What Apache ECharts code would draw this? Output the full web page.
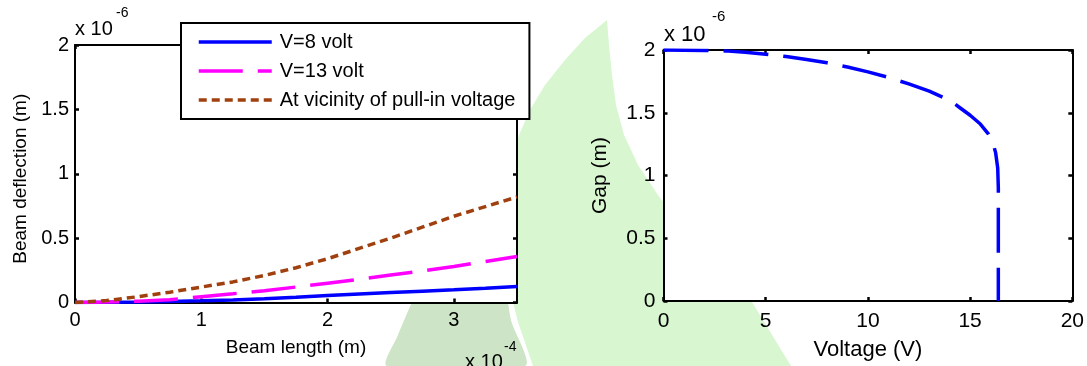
<!DOCTYPE html>
<html>
<head>
<meta charset="utf-8">
<script src="https://cdn.jsdelivr.net/npm/echarts@6/dist/echarts.min.js"></script>
<style>
html,body{margin:0;padding:0;background:#fff;}
#chart{width:1087px;height:366px;}
</style>
</head>
<body>
<div id="chart"></div>
<script>
// Left panel: beam length (x 1e-4 m) vs beam deflection (x 1e-6 m)
const beamLength = [0, 0.25, 0.5, 0.75, 1, 1.25, 1.5, 1.75, 2, 2.25, 2.5, 2.75, 3, 3.25, 3.5];
const defl8      = [0, 0.001, 0.003, 0.007, 0.013, 0.02, 0.029, 0.04, 0.055, 0.066, 0.077, 0.088, 0.099, 0.111, 0.124];
const defl13     = [0, 0.003, 0.01, 0.022, 0.045, 0.068, 0.092, 0.12, 0.15, 0.18, 0.213, 0.246, 0.28, 0.318, 0.358];
const deflPull   = [0, 0.015, 0.045, 0.08, 0.12, 0.16, 0.21, 0.27, 0.34, 0.42, 0.5, 0.585, 0.67, 0.745, 0.82];
const seriesNames = ['V=8 volt', 'V=13 volt', 'At vicinity of pull-in voltage'];

// Right panel: voltage (V) vs gap (x 1e-6 m)
const voltage = [0, 1, 2, 3, 4, 5, 6, 7, 8, 9, 10, 11, 12, 13, 14, 14.5, 15, 15.5, 15.9, 16.1, 16.25, 16.35, 16.38, 16.38];
const gap     = [2.0, 1.999, 1.997, 1.993, 1.982, 1.966, 1.948, 1.925, 1.898, 1.865, 1.826, 1.782, 1.73, 1.672, 1.6, 1.54, 1.48, 1.41, 1.33, 1.27, 1.18, 1.06, 0.9, 0];

const FONT = '"Liberation Sans", Arial, sans-serif';
const zip = (xs, ys) => xs.map((x, i) => [x, ys[i]]);

function axis(opts) {
  const base = {
    type: 'value',
    axisLine: { show: true, onZero: false, lineStyle: { color: '#000', width: 2 } },
    axisTick: { show: true, inside: true, length: 4, lineStyle: { color: '#000', width: 2.5 } },
    splitLine: { show: false },
    axisLabel: { show: true, color: '#000', fontFamily: FONT, fontSize: 21, showMaxLabel: true }
  };
  const o = Object.assign({}, base, opts);
  if (opts.axisLabel) o.axisLabel = Object.assign({}, base.axisLabel, opts.axisLabel);
  return o;
}

const chart = echarts.init(document.getElementById('chart'), null, { renderer: 'canvas' });
chart.setOption({
  backgroundColor: '#fff',
  animation: false,
  graphic: { elements: [
    { type: 'polygon', z: -10, shape: { smooth: 0.25, points: [[387,366],[398,335],[412,302],[440,240],[470,180],[500,130],[505,200],[506,280],[511,320],[525,366]] }, style: { fill: '#cde5c6' } },
    { type: 'polygon', z: -10, shape: { points: [[607,20],[609,45],[612,75],[616,105],[624,135],[638,165],[660,198],[690,232],[720,266],[752,302],[791,366],[533,366],[518,322],[510,290],[508,220],[512,160],[519,135],[530,110],[545,85],[565,60],[585,38]] }, style: { fill: '#d8f6d0' } },
    { type: 'text', z: 100, x: 75, y: 29, style: { text: 'x 10', fill: '#000', font: '20px ' + FONT, textAlign: 'left', textVerticalAlign: 'middle' } },
    { type: 'text', z: 100, x: 116, y: 13, style: { text: '-6', fill: '#000', font: '14px ' + FONT, textAlign: 'left', textVerticalAlign: 'middle' } },
    { type: 'text', z: 100, x: 664, y: 35, style: { text: 'x 10', fill: '#000', font: '22px ' + FONT, textAlign: 'left', textVerticalAlign: 'middle' } },
    { type: 'text', z: 100, x: 712, y: 17, style: { text: '-6', fill: '#000', font: '15px ' + FONT, textAlign: 'left', textVerticalAlign: 'middle' } },
    { type: 'text', z: 100, x: 465, y: 362, style: { text: 'x 10', fill: '#000', font: '20px ' + FONT, textAlign: 'left', textVerticalAlign: 'middle' } },
    { type: 'text', z: 100, x: 504, y: 347, style: { text: '-4', fill: '#000', font: '14px ' + FONT, textAlign: 'left', textVerticalAlign: 'middle' } }
  ]},
  legend: {
    data: seriesNames,
    left: 181, top: 23,
    orient: 'vertical',
    backgroundColor: '#fff',
    borderColor: '#000', borderWidth: 2, borderRadius: 0,
    padding: [9, 14, 9, 16],
    itemWidth: 73, itemHeight: 14, itemGap: 9,
    itemStyle: { opacity: 0 },
    lineStyle: { width: 3.5, opacity: 1 },
    selectedMode: false,
    textStyle: { color: '#000', fontFamily: FONT, fontSize: 20, padding: [0, 0, 0, 3] }
  },
  grid: [
    { left: 75, top: 45, width: 442, height: 257.5, show: true, backgroundColor: '#fff', borderWidth: 0 },
    { left: 663.5, top: 50, width: 410, height: 251.7, show: true, backgroundColor: '#fff', borderWidth: 0 }
  ],
  xAxis: [
    axis({ gridIndex: 0, position: 'bottom', min: 0, max: 3.5, interval: 1,
      axisLabel: { margin: 8, fontSize: 20, showMaxLabel: false },
      name: 'Beam length (m)', nameLocation: 'middle', nameGap: 36,
      nameTextStyle: { color: '#000', fontFamily: FONT, fontSize: 19 } }),
    axis({ gridIndex: 0, position: 'top', min: 0, max: 3.5, interval: 1, axisLabel: { show: false } }),
    axis({ gridIndex: 1, position: 'bottom', min: 0, max: 20, interval: 5,
      axisLabel: { margin: 10, fontSize: 21 },
      name: 'Voltage (V)', nameLocation: 'middle', nameGap: 38,
      nameTextStyle: { color: '#000', fontFamily: FONT, fontSize: 22 } }),
    axis({ gridIndex: 1, position: 'top', min: 0, max: 20, interval: 5, axisLabel: { show: false } })
  ],
  yAxis: [
    axis({ gridIndex: 0, position: 'left', min: 0, max: 2, interval: 0.5,
      axisLabel: { margin: 6, fontSize: 20 },
      name: 'Beam deflection (m)', nameLocation: 'middle', nameGap: 45,
      nameTextStyle: { color: '#000', fontFamily: FONT, fontSize: 19, padding: [0, 10, 0, 0] } }),
    axis({ gridIndex: 0, position: 'right', min: 0, max: 2, interval: 0.5, axisLabel: { show: false } }),
    axis({ gridIndex: 1, position: 'left', min: 0, max: 2, interval: 0.5,
      axisLabel: { margin: 8, fontSize: 21 },
      name: 'Gap (m)', nameLocation: 'middle', nameGap: 53,
      nameTextStyle: { color: '#000', fontFamily: FONT, fontSize: 21 } }),
    axis({ gridIndex: 1, position: 'right', min: 0, max: 2, interval: 0.5, axisLabel: { show: false } })
  ],
  series: [
    { name: seriesNames[0], type: 'line', xAxisIndex: 0, yAxisIndex: 0, symbol: 'none', z: 3,
      data: zip(beamLength, defl8), lineStyle: { color: '#0000ff', width: 3.5, type: 'solid' }, itemStyle: { color: '#0000ff' } },
    { name: seriesNames[1], type: 'line', xAxisIndex: 0, yAxisIndex: 0, symbol: 'none', z: 4,
      data: zip(beamLength, defl13), lineStyle: { color: '#ff00ff', width: 3.5, type: [44, 15] }, itemStyle: { color: '#ff00ff' } },
    { name: seriesNames[2], type: 'line', xAxisIndex: 0, yAxisIndex: 0, symbol: 'none', z: 5,
      data: zip(beamLength, deflPull), lineStyle: { color: '#a0400e', width: 3.5, type: [8, 5] }, itemStyle: { color: '#a0400e' } },
    { name: 'Gap', type: 'line', xAxisIndex: 2, yAxisIndex: 2, symbol: 'none', z: 3,
      data: zip(voltage, gap), lineStyle: { color: '#0000ff', width: 3.5, type: [45, 15] }, itemStyle: { color: '#0000ff' } }
  ]
});
</script>
</body>
</html>
